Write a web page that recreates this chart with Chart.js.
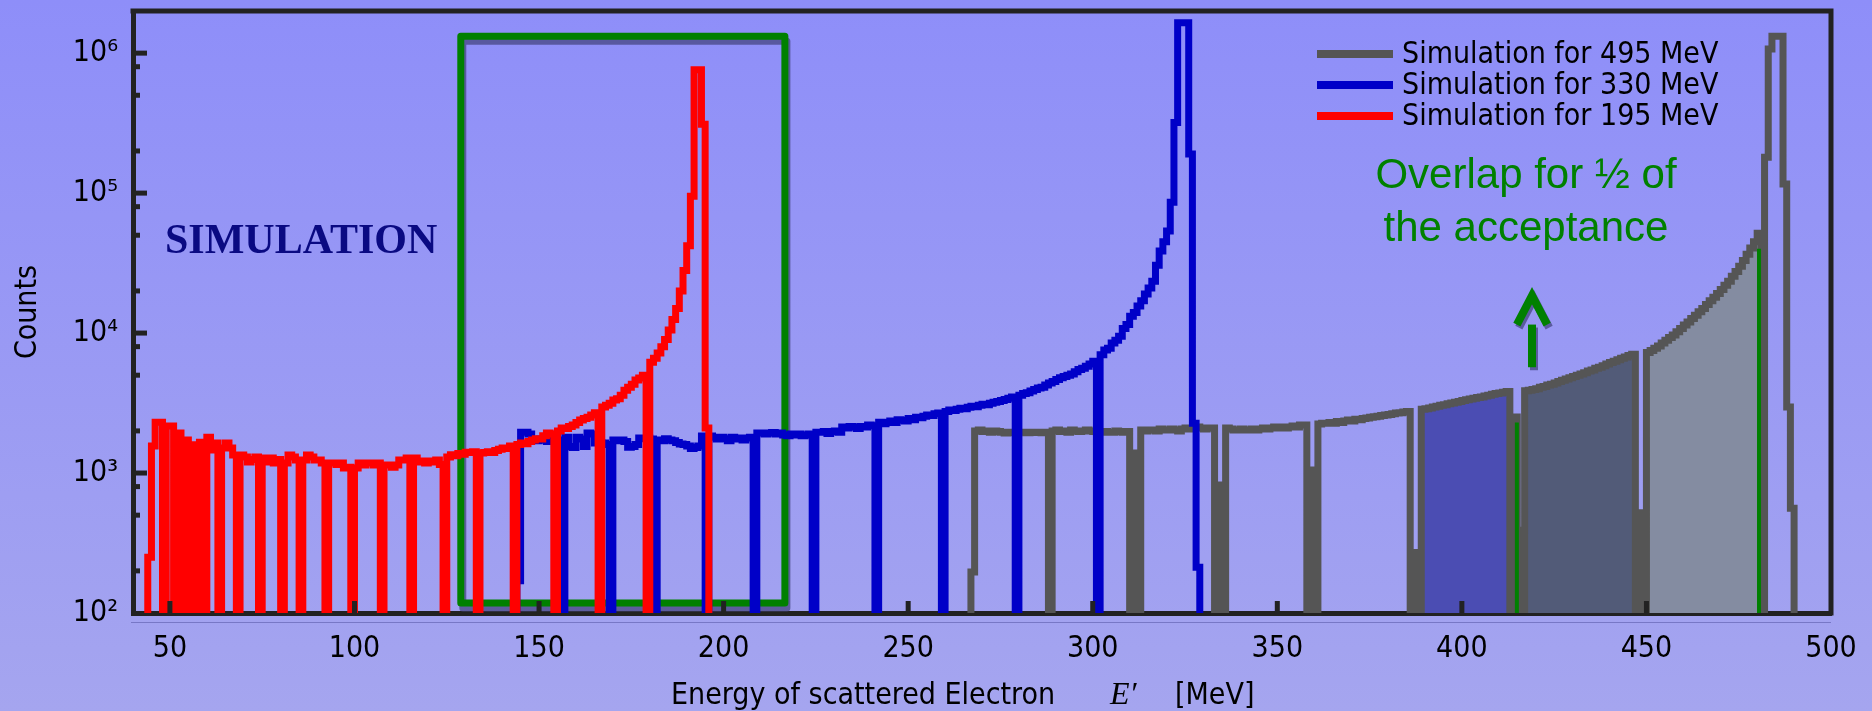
<!DOCTYPE html>
<html>
<head>
<meta charset="utf-8">
<script src="https://cdn.jsdelivr.net/npm/chart.js@4.4.1/dist/chart.umd.min.js"></script>
<style>
  html, body { margin: 0; padding: 0; }
  body { width: 1872px; height: 711px; overflow: hidden; background: linear-gradient(#8e8ef9, #a5a5ef); }
  canvas { display: block; }
</style>
</head>
<body>
<canvas id="spectrum" width="1872" height="711"></canvas>
<script>
// histograms: 1 MeV bins, the first bin starts at *Start
const redStart = 44;
const redCounts = [
  250, 1560, 2310, 2310, 0, 2170, 2170, 0, 1930, 0,
  1720, 0, 1590, 0, 1660, 0, 1800, 1460, 1640, 0,
  1510, 1640, 1510, 1345, 0, 1345, 1300, 1200, 1250, 1300,
  0, 1280, 1200, 1280, 1180, 1250, 0, 1180, 1345, 1300,
  1240, 0, 1240, 1345, 1300, 1240, 1240, 1180, 0, 1180,
  1180, 1150, 1180, 1085, 1100, 0, 1085, 1180, 1140, 1180,
  1180, 1140, 1180, 0, 1140, 1140, 1100, 1140, 1240, 1240,
  1280, 0, 1280, 1200, 1220, 1180, 1220, 1200, 1240, 1150,
  0, 1300, 1350, 1330, 1380, 1360, 1410, 1400, 1420, 0,
  1390, 1400, 1420, 1400, 1450, 1480, 1510, 1500, 1560, 0,
  1600, 1640, 1620, 1680, 1720, 1760, 1750, 1850, 1930, 1900,
  0, 2000, 2100, 2080, 2150, 2200, 2300, 2390, 2450, 2500,
  2600, 2700, 0, 2960, 3050, 3150, 3320, 3400, 3600, 3900,
  4100, 4300, 4620, 4770, 5000, 0, 6200, 6600, 7200, 8000,
  9000, 10500, 12500, 15000, 20000, 28000, 42000, 95000, 760000, 760000,
  310000, 2100
];

const blueStart = 144;
const blueCounts = [
  170, 1960, 1960, 1900, 1720, 1700, 1750, 1720, 1680, 1720,
  1760, 1720, 0, 1800, 1550, 1520, 1800, 1750, 1550, 1930,
  1900, 1640, 1650, 1640, 1600, 0, 1720, 1700, 1720, 1680,
  1530, 1550, 1600, 1780, 1760, 1780, 1750, 0, 1720, 1700,
  1760, 1720, 1700, 1650, 1610, 1600, 1560, 1500, 1520, 1560,
  1840, 0, 1840, 1800, 1750, 1800, 1760, 1700, 1800, 1750,
  1780, 1720, 1780, 1800, 0, 1930, 1930, 1900, 1930, 1950,
  1900, 1930, 1870, 1850, 1900, 1870, 1900, 1850, 1870, 1900,
  0, 1960, 1960, 1980, 1920, 1980, 2000, 1960, 2130, 2100,
  2150, 2130, 2080, 2150, 2130, 2200, 2180, 0, 2310, 2250,
  2300, 2350, 2300, 2400, 2380, 2350, 2450, 2400, 2500, 2480,
  2550, 2600, 2580, 2650, 2680, 0, 2750, 2820, 2800, 2850,
  2900, 2880, 2950, 3000, 2980, 3050, 3100, 3080, 3150, 3200,
  3250, 3300, 3350, 3420, 3490, 0, 3600, 3700, 3750, 3850,
  3950, 4050, 4100, 4250, 4400, 4500, 4650, 4800, 4900, 5000,
  5100, 5300, 5500, 5600, 5800, 6000, 6300, 0, 7000, 7560,
  7800, 8500, 8900, 9500, 10800, 11500, 13200, 14000, 15600, 17000,
  19000, 21000, 23500, 30500, 38500, 45000, 53500, 86000, 320000, 1650000,
  1650000, 1650000, 190000, 2270, 212
];

const grayStart = 267;
const grayCounts = [
  196, 2000, 2030, 1980, 2000, 1960, 2000, 1980, 1960, 1930,
  1960, 1950, 1930, 1960, 1960, 1940, 1960, 1950, 1960, 1940,
  1960, 0, 2000, 2030, 1980, 2000, 1960, 2030, 2000, 1980,
  2000, 2030, 2000, 1980, 1960, 1960, 1980, 1960, 1960, 2000,
  1980, 1960, 1980, 0, 1390, 0, 2030, 2000, 2030, 2030,
  2000, 2060, 2030, 2030, 2060, 2030, 2000, 2060, 2100, 2060,
  2100, 2130, 2100, 2060, 2100, 2100, 0, 820, 0, 2100,
  2060, 2030, 2030, 2060, 2030, 2030, 2060, 2030, 2060, 2100,
  2060, 2100, 2130, 2100, 2130, 2100, 2130, 2170, 2130, 2200,
  2200, 0, 1050, 0, 2240, 2270, 2270, 2300, 2270, 2330,
  2300, 2350, 2390, 2350, 2420, 2400, 2450, 2470, 2500, 2520,
  2550, 2580, 2600, 2620, 2650, 2680, 2700, 2730, 2750, 0,
  270, 0, 2850, 2880, 2920, 2960, 3000, 3050, 3080, 3120,
  3160, 3200, 3250, 3300, 3340, 3380, 3420, 3460, 3500, 3550,
  3600, 3650, 3700, 3730, 3780, 3820, 0, 2510, 390, 0,
  3870, 3900, 3950, 4000, 4100, 4150, 4250, 4300, 4400, 4500,
  4600, 4700, 4800, 4900, 5000, 5100, 5200, 5350, 5450, 5600,
  5700, 5850, 6000, 6150, 6300, 6450, 6600, 6750, 6900, 7050,
  0, 520, 0, 7250, 7500, 7800, 8100, 8500, 8900, 9300,
  9700, 10200, 10800, 11400, 12000, 12700, 13400, 14200, 15000, 16000,
  17000, 18000, 19200, 20500, 22000, 23500, 25500, 27500, 30000, 33000,
  36500, 40500, 45000, 51600, 0, 180000, 1070000, 1320000, 1320000, 1320000,
  116000, 2960, 560
];

// shaded overlap bands under the 495 MeV curve [from, to) in MeV
const overlapFrom = [389, 417, 450];
const overlapTo = [413, 447, 481];

// green edge markers
const markerE = [414.9, 480.5];
const markerTop = [2300, 40000];

// green window 128.8 - 216.6 MeV
const boxE = [128.8, 128.8, 216.6, 216.6, 128.8];
const boxCounts = [118, 1.32e6, 1.32e6, 118, 118];

// arrow: energy, shaft bottom / shaft top / tip counts, half width of head in MeV
const arrowE = 419;
const arrowCounts = [5700, 11500, 18500];
const arrowHalf = 4.1;

const xTicks = [50, 100, 150, 200, 250, 300, 350, 400, 450, 500];
const yDecades = [1e2, 1e3, 1e4, 1e5, 1e6];
const yDecadeLabels = ['10²', '10³', '10⁴', '10⁵', '10⁶'];
const yMinor = [200, 500, 800, 2000, 5000, 8000, 2e4, 5e4, 8e4, 2e5, 5e5, 8e5];

const seriesLabels = ['Simulation for 495 MeV', 'Simulation for 330 MeV', 'Simulation for 195 MeV'];

const SANS = '"DejaVu Sans Condensed", "DejaVu Sans", sans-serif';
const FLOOR = 1; // empty bins are drawn below the axis and clipped

function histPoints(start, counts, from, to) {
  const lo = from ?? start;
  const hi = to ?? start + counts.length;
  const pts = [{ x: lo, y: FLOOR }];
  for (let e = lo; e < hi; e++) {
    const c = counts[e - start];
    pts.push({ x: e, y: c > 0 ? c : FLOOR });
  }
  pts.push({ x: hi, y: FLOOR });
  return pts;
}

function histDataset(label, start, counts, color, order) {
  return {
    label, data: histPoints(start, counts), legend: true,
    borderColor: color, backgroundColor: color, borderWidth: 7,
    stepped: 'before', pointRadius: 0, fill: false, order,
    borderJoinStyle: 'miter', borderCapStyle: 'butt'
  };
}

const bandColors = ['#4b4db3', '#525b78', '#848ca1'];

const datasets = [
  histDataset(seriesLabels[0], grayStart, grayCounts, '#555555', 4),
  histDataset(seriesLabels[1], blueStart, blueCounts, '#0000c8', 2),
  histDataset(seriesLabels[2], redStart, redCounts, '#ff0000', 1)
];

markerE.forEach((e, i) => {
  datasets.push({
    data: [{ x: e, y: FLOOR }, { x: e, y: markerTop[i] }],
    borderColor: '#008000', borderWidth: 4, pointRadius: 0, order: 3
  });
});

datasets.push({
  data: boxE.map((e, i) => ({ x: e, y: boxCounts[i] })),
  borderColor: '#008000', borderWidth: 7, pointRadius: 0, order: 5,
  borderJoinStyle: 'round', borderCapStyle: 'round', shadow: true
});

overlapFrom.forEach((lo, i) => {
  datasets.push({
    data: histPoints(grayStart, grayCounts, lo, overlapTo[i]),
    stepped: 'before', pointRadius: 0, order: 6,
    borderWidth: 0, backgroundColor: bandColors[i], fill: 'start'
  });
});

const decor = {
  id: 'decor',
  beforeDatasetDraw(chart, args) {
    if (chart.data.datasets[args.index].shadow) {
      const ctx = chart.ctx;
      ctx.save();
      ctx.shadowColor = 'rgba(70, 70, 130, 0.75)';
      ctx.shadowOffsetX = 2;
      ctx.shadowOffsetY = 5;
    }
  },
  afterDatasetDraw(chart, args) {
    if (chart.data.datasets[args.index].shadow) chart.ctx.restore();
  },
  afterDraw(chart) {
    const { ctx, chartArea: a, scales: { x, y } } = chart;
    ctx.save();

    // faint rule just under the axis
    ctx.strokeStyle = 'rgba(90, 90, 170, 0.6)';
    ctx.lineWidth = 1;
    ctx.beginPath();
    ctx.moveTo(a.left - 2, a.bottom + 9.5);
    ctx.lineTo(a.right, a.bottom + 9.5);
    ctx.stroke();

    // top and right frame
    ctx.strokeStyle = '#222';
    ctx.lineWidth = 5;
    ctx.lineCap = 'square';
    ctx.beginPath();
    ctx.moveTo(a.left, a.top);
    ctx.lineTo(a.right, a.top);
    ctx.lineTo(a.right, a.bottom);
    ctx.stroke();

    // tick marks pointing into the plot
    ctx.lineCap = 'butt';
    xTicks.forEach(v => {
      const px = x.getPixelForValue(v);
      if (px > a.right - 3) return;
      ctx.beginPath();
      ctx.moveTo(px, a.bottom);
      ctx.lineTo(px, a.bottom - 12);
      ctx.stroke();
    });
    const yTick = (v, len) => {
      const py = y.getPixelForValue(v);
      if (py > a.bottom - 3) return;
      ctx.beginPath();
      ctx.moveTo(a.left, py);
      ctx.lineTo(a.left + len, py);
      ctx.stroke();
    };
    yDecades.forEach(v => yTick(v, 14));
    yMinor.forEach(v => yTick(v, 7));

    // arrow
    const ax = x.getPixelForValue(arrowE);
    const hw = x.getPixelForValue(arrowE + arrowHalf) - ax;
    const yBase = y.getPixelForValue(arrowCounts[0]);
    const yNeck = y.getPixelForValue(arrowCounts[1]);
    const yTip = y.getPixelForValue(arrowCounts[2]);
    ctx.save();
    ctx.shadowColor = 'rgba(70, 70, 130, 0.75)';
    ctx.shadowOffsetX = 2;
    ctx.shadowOffsetY = 3;
    ctx.strokeStyle = '#008000';
    ctx.lineWidth = 8;
    ctx.lineJoin = 'miter';
    ctx.beginPath();
    ctx.moveTo(ax - hw, yNeck);
    ctx.lineTo(ax, yTip);
    ctx.lineTo(ax + hw, yNeck);
    ctx.stroke();
    ctx.beginPath();
    ctx.moveTo(ax, yNeck);
    ctx.lineTo(ax, yBase);
    ctx.stroke();
    ctx.restore();

    // texts
    ctx.textBaseline = 'alphabetic';
    ctx.fillStyle = '#0a0a82';
    ctx.font = 'bold 42px "Liberation Serif", serif';
    ctx.textAlign = 'left';
    ctx.fillText('SIMULATION', 165, 253);

    ctx.fillStyle = '#008000';
    ctx.font = '42px "Liberation Sans", sans-serif';
    ctx.textAlign = 'center';
    ctx.fillText('Overlap for ½ of', 1526, 188);
    ctx.fillText('the acceptance', 1526, 241);

    // x axis title
    ctx.fillStyle = '#000';
    ctx.textAlign = 'left';
    ctx.font = '30px ' + SANS;
    ctx.fillText('Energy of scattered Electron', 671, 704);
    ctx.font = 'italic 32px "Liberation Serif", serif';
    ctx.fillText('E′', 1110, 704);
    ctx.font = '30px ' + SANS;
    ctx.fillText('[MeV]', 1175, 704);

    // legend
    ctx.textBaseline = 'middle';
    ctx.font = '30px ' + SANS;
    let row = 0;
    chart.data.datasets.forEach(ds => {
      if (!ds.legend) return;
      const ly = 54 + row * 31;
      ctx.fillStyle = ds.borderColor;
      ctx.fillRect(1317, ly - 4, 76, 8);
      ctx.fillStyle = '#000';
      ctx.fillText(ds.label, 1402, ly + 1);
      row++;
    });

    ctx.restore();
  }
};

new Chart(document.getElementById('spectrum'), {
  type: 'line',
  data: { datasets },
  plugins: [decor],
  options: {
    responsive: false,
    animation: false,
    devicePixelRatio: 1,
    layout: { padding: { left: 0, right: 41, top: 11, bottom: 0 } },
    plugins: { legend: { display: false }, tooltip: { enabled: false } },
    elements: { line: { tension: 0 } },
    scales: {
      x: {
        type: 'linear', min: 40, max: 500, z: 1,
        afterBuildTicks: s => { s.ticks = xTicks.map(v => ({ value: v })); },
        afterFit: s => { s.height = 98; s.paddingLeft = 0; s.paddingRight = 0; },
        grid: { display: false, drawTicks: false },
        border: { display: true, width: 5, color: '#222' },
        ticks: { color: '#000', font: { family: SANS, size: 30 }, padding: 18, autoSkip: false, maxRotation: 0 }
      },
      y: {
        type: 'logarithmic', min: 100, max: 2e6, z: 1,
        afterBuildTicks: s => { s.ticks = yDecades.concat(yMinor).sort((p, q) => p - q).map(v => ({ value: v })); },
        afterFit: s => { s.width = 133; s.paddingTop = 0; s.paddingBottom = 0; },
        grid: { display: false, drawTicks: false },
        border: { display: true, width: 5, color: '#222' },
        title: { display: true, text: 'Counts', color: '#000', font: { family: SANS, size: 30 }, padding: { top: 10, bottom: 0 } },
        ticks: {
          color: '#000', font: { family: SANS, size: 30 }, padding: 15, autoSkip: false,
          callback: v => { const i = yDecades.indexOf(v); return i >= 0 ? yDecadeLabels[i] : ''; }
        }
      }
    }
  }
});
</script>
</body>
</html>
